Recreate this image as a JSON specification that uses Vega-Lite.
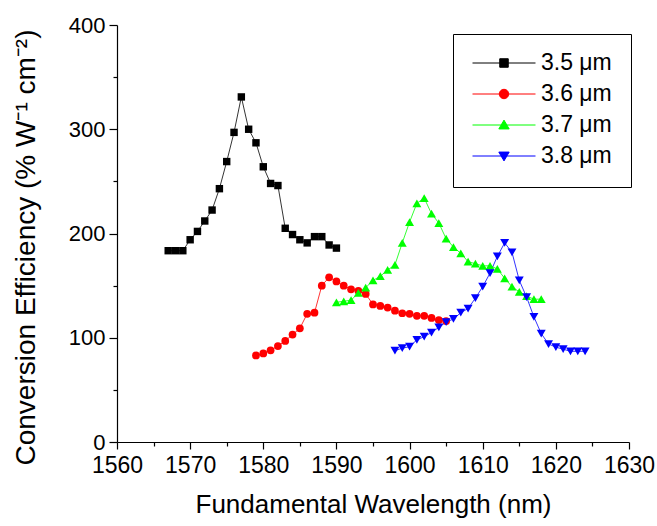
{
  "$schema": "https://vega.github.io/schema/vega-lite/v6.json",
  "width": 512,
  "height": 417,
  "autosize": "none",
  "padding": {"left": 117, "top": 25, "right": 28, "bottom": 84},
  "background": "white",
  "config": {"view": {"stroke": null}, "font": "Liberation Sans"},
  "data": {
    "values": [
      {"s": "3.5 μm", "x": 1567, "y": 183.5},
      {"s": "3.5 μm", "x": 1568, "y": 183.5},
      {"s": "3.5 μm", "x": 1569, "y": 183.5},
      {"s": "3.5 μm", "x": 1570, "y": 194},
      {"s": "3.5 μm", "x": 1571, "y": 202},
      {"s": "3.5 μm", "x": 1572, "y": 212},
      {"s": "3.5 μm", "x": 1573, "y": 222.5},
      {"s": "3.5 μm", "x": 1574, "y": 243},
      {"s": "3.5 μm", "x": 1575, "y": 269},
      {"s": "3.5 μm", "x": 1576, "y": 297},
      {"s": "3.5 μm", "x": 1577, "y": 331},
      {"s": "3.5 μm", "x": 1578, "y": 300},
      {"s": "3.5 μm", "x": 1579, "y": 287},
      {"s": "3.5 μm", "x": 1580, "y": 264},
      {"s": "3.5 μm", "x": 1581, "y": 248},
      {"s": "3.5 μm", "x": 1582, "y": 246},
      {"s": "3.5 μm", "x": 1583, "y": 205},
      {"s": "3.5 μm", "x": 1584, "y": 199},
      {"s": "3.5 μm", "x": 1585, "y": 194},
      {"s": "3.5 μm", "x": 1586, "y": 191},
      {"s": "3.5 μm", "x": 1587, "y": 197},
      {"s": "3.5 μm", "x": 1588, "y": 197},
      {"s": "3.5 μm", "x": 1589, "y": 189},
      {"s": "3.5 μm", "x": 1590, "y": 186},
      {"s": "3.6 μm", "x": 1579, "y": 83},
      {"s": "3.6 μm", "x": 1580, "y": 85},
      {"s": "3.6 μm", "x": 1581, "y": 88},
      {"s": "3.6 μm", "x": 1582, "y": 92},
      {"s": "3.6 μm", "x": 1583, "y": 97},
      {"s": "3.6 μm", "x": 1584, "y": 103},
      {"s": "3.6 μm", "x": 1585, "y": 109},
      {"s": "3.6 μm", "x": 1586, "y": 123},
      {"s": "3.6 μm", "x": 1587, "y": 124},
      {"s": "3.6 μm", "x": 1588, "y": 150},
      {"s": "3.6 μm", "x": 1589, "y": 158},
      {"s": "3.6 μm", "x": 1590, "y": 154},
      {"s": "3.6 μm", "x": 1591, "y": 150},
      {"s": "3.6 μm", "x": 1592, "y": 146.5},
      {"s": "3.6 μm", "x": 1593, "y": 145},
      {"s": "3.6 μm", "x": 1594, "y": 142},
      {"s": "3.6 μm", "x": 1595, "y": 132},
      {"s": "3.6 μm", "x": 1596, "y": 130.5},
      {"s": "3.6 μm", "x": 1597, "y": 129},
      {"s": "3.6 μm", "x": 1598, "y": 126},
      {"s": "3.6 μm", "x": 1599, "y": 123.5},
      {"s": "3.6 μm", "x": 1600, "y": 123},
      {"s": "3.6 μm", "x": 1601, "y": 121},
      {"s": "3.6 μm", "x": 1602, "y": 121},
      {"s": "3.6 μm", "x": 1603, "y": 119},
      {"s": "3.6 μm", "x": 1604, "y": 117},
      {"s": "3.6 μm", "x": 1605, "y": 116},
      {"s": "3.7 μm", "x": 1590, "y": 134},
      {"s": "3.7 μm", "x": 1591, "y": 135},
      {"s": "3.7 μm", "x": 1592, "y": 136},
      {"s": "3.7 μm", "x": 1593, "y": 143},
      {"s": "3.7 μm", "x": 1594, "y": 148},
      {"s": "3.7 μm", "x": 1595, "y": 155},
      {"s": "3.7 μm", "x": 1596, "y": 159},
      {"s": "3.7 μm", "x": 1597, "y": 165},
      {"s": "3.7 μm", "x": 1598, "y": 170},
      {"s": "3.7 μm", "x": 1599, "y": 191},
      {"s": "3.7 μm", "x": 1600, "y": 211},
      {"s": "3.7 μm", "x": 1601, "y": 229},
      {"s": "3.7 μm", "x": 1602, "y": 234},
      {"s": "3.7 μm", "x": 1603, "y": 219},
      {"s": "3.7 μm", "x": 1604, "y": 210},
      {"s": "3.7 μm", "x": 1605, "y": 195},
      {"s": "3.7 μm", "x": 1606, "y": 187},
      {"s": "3.7 μm", "x": 1607, "y": 181},
      {"s": "3.7 μm", "x": 1608, "y": 173},
      {"s": "3.7 μm", "x": 1609, "y": 171},
      {"s": "3.7 μm", "x": 1610, "y": 169},
      {"s": "3.7 μm", "x": 1611, "y": 169},
      {"s": "3.7 μm", "x": 1612, "y": 166},
      {"s": "3.7 μm", "x": 1613, "y": 157},
      {"s": "3.7 μm", "x": 1614, "y": 149},
      {"s": "3.7 μm", "x": 1615, "y": 144},
      {"s": "3.7 μm", "x": 1616, "y": 140},
      {"s": "3.7 μm", "x": 1617, "y": 137},
      {"s": "3.7 μm", "x": 1618, "y": 137},
      {"s": "3.8 μm", "x": 1598, "y": 87.6},
      {"s": "3.8 μm", "x": 1599, "y": 90},
      {"s": "3.8 μm", "x": 1600, "y": 91.4},
      {"s": "3.8 μm", "x": 1601, "y": 98},
      {"s": "3.8 μm", "x": 1602, "y": 101},
      {"s": "3.8 μm", "x": 1603, "y": 105},
      {"s": "3.8 μm", "x": 1604, "y": 110},
      {"s": "3.8 μm", "x": 1605, "y": 115},
      {"s": "3.8 μm", "x": 1606, "y": 118},
      {"s": "3.8 μm", "x": 1607, "y": 124},
      {"s": "3.8 μm", "x": 1608, "y": 128},
      {"s": "3.8 μm", "x": 1609, "y": 138},
      {"s": "3.8 μm", "x": 1610, "y": 149},
      {"s": "3.8 μm", "x": 1611, "y": 162},
      {"s": "3.8 μm", "x": 1612, "y": 178},
      {"s": "3.8 μm", "x": 1613, "y": 191},
      {"s": "3.8 μm", "x": 1614, "y": 182},
      {"s": "3.8 μm", "x": 1615, "y": 155},
      {"s": "3.8 μm", "x": 1616, "y": 139},
      {"s": "3.8 μm", "x": 1617, "y": 120},
      {"s": "3.8 μm", "x": 1618, "y": 104},
      {"s": "3.8 μm", "x": 1619, "y": 94},
      {"s": "3.8 μm", "x": 1620, "y": 91},
      {"s": "3.8 μm", "x": 1621, "y": 89},
      {"s": "3.8 μm", "x": 1622, "y": 87},
      {"s": "3.8 μm", "x": 1623, "y": 87},
      {"s": "3.8 μm", "x": 1624, "y": 87}
    ]
  },
  "encoding": {
    "x": {
      "field": "x", "type": "quantitative",
      "scale": {"domain": [1560, 1630], "nice": false, "zero": false},
      "axis": {
        "values": [1560, 1565, 1570, 1575, 1580, 1585, 1590, 1595, 1600, 1605, 1610, 1615, 1620, 1625, 1630],
        "format": "d",
        "labelExpr": "datum.value % 10 === 0 ? datum.label : ''",
        "tickSize": {"condition": {"test": "datum.value % 10 === 0", "value": 7}, "value": 4},
        "labelOverlap": false, "labelFlush": false,
        "labelFontSize": 23, "labelPadding": 5, "labelColor": "black",
        "title": "Fundamental Wavelength (nm)", "titleFontSize": 26, "titleFontWeight": "normal",
        "titleColor": "black", "titlePadding": 14,
        "grid": false, "domainColor": "black", "tickColor": "black", "domainWidth": 1.2, "tickWidth": 1.2
      }
    },
    "y": {
      "field": "y", "type": "quantitative",
      "scale": {"domain": [0, 400], "nice": false},
      "axis": {
        "values": [0, 50, 100, 150, 200, 250, 300, 350, 400],
        "format": "d",
        "labelExpr": "datum.value % 100 === 0 ? datum.label : ''",
        "tickSize": {"condition": {"test": "datum.value % 100 === 0", "value": 8}, "value": 4},
        "labelOverlap": false, "labelFlush": false,
        "labelFontSize": 22, "labelPadding": 4, "labelColor": "black",
        "title": "Conversion Efficiency (% W⁻¹ cm⁻²)", "titleFontSize": 28, "titleFontWeight": "normal",
        "titleColor": "black", "titlePadding": 28, "titleY": 222,
        "grid": false, "domainColor": "black", "tickColor": "black", "domainWidth": 1.2, "tickWidth": 1.2
      }
    },
    "color": {
      "field": "s", "type": "nominal",
      "scale": {"domain": ["3.5 μm", "3.6 μm", "3.7 μm", "3.8 μm"], "range": ["#000000", "#ff0000", "#00ff00", "#0000ff"]},
      "legend": {
        "title": null, "orient": "none", "legendX": 336, "legendY": 9,
        "strokeColor": "black", "padding": 19,
        "symbolSize": 3969, "symbolStrokeWidth": 1, "symbolOpacity": 1, "clipHeight": 20, "rowPadding": 8,
        "labelFontSize": 23, "labelOffset": 5, "labelColor": "black", "labelFont": "Liberation Sans"
      }
    }
  },
  "layer": [
    {
      "mark": {"type": "line", "strokeWidth": 0.8}
    },
    {
      "transform": [{"filter": "datum.s === '3.5 μm'"}],
      "mark": {"type": "point", "filled": true, "opacity": 1, "strokeWidth": 0, "shape": "square", "size": 55}
    },
    {
      "transform": [{"filter": "datum.s === '3.6 μm'"}],
      "mark": {"type": "point", "filled": true, "opacity": 1, "strokeWidth": 0, "shape": "circle", "size": 60}
    },
    {
      "transform": [{"filter": "datum.s === '3.7 μm'"}],
      "mark": {"type": "point", "filled": true, "opacity": 1, "strokeWidth": 0, "shape": "triangle-up", "size": 80}
    },
    {
      "transform": [{"filter": "datum.s === '3.8 μm'"}],
      "mark": {"type": "point", "filled": true, "opacity": 1, "strokeWidth": 0, "shape": "triangle-down", "size": 80}
    },
    {
      "mark": {"type": "point", "filled": true, "opacity": 0},
      "encoding": {
        "shape": {
          "field": "s", "type": "nominal",
          "scale": {
            "domain": ["3.5 μm", "3.6 μm", "3.7 μm", "3.8 μm"],
            "range": [
              "M-1,0H1M-0.135,-0.135H0.135V0.135H-0.135Z",
              "M-1,0H1M-0.15,0A0.15,0.15,0,1,1,0.15,0A0.15,0.15,0,1,1,-0.15,0Z",
              "M-1,0H1M0,-0.155L0.165,0.125L-0.165,0.125Z",
              "M-1,0H1M0,0.155L0.165,-0.125L-0.165,-0.125Z"
            ]
          },
          "legend": {
            "title": null, "orient": "none", "legendX": 336, "legendY": 9,
            "strokeColor": "black", "padding": 19,
            "symbolSize": 3969, "symbolStrokeWidth": 1, "symbolOpacity": 1, "clipHeight": 20, "rowPadding": 8,
            "labelFontSize": 23, "labelOffset": 5, "labelColor": "black", "labelFont": "Liberation Sans"
          }
        }
      }
    }
  ]
}
